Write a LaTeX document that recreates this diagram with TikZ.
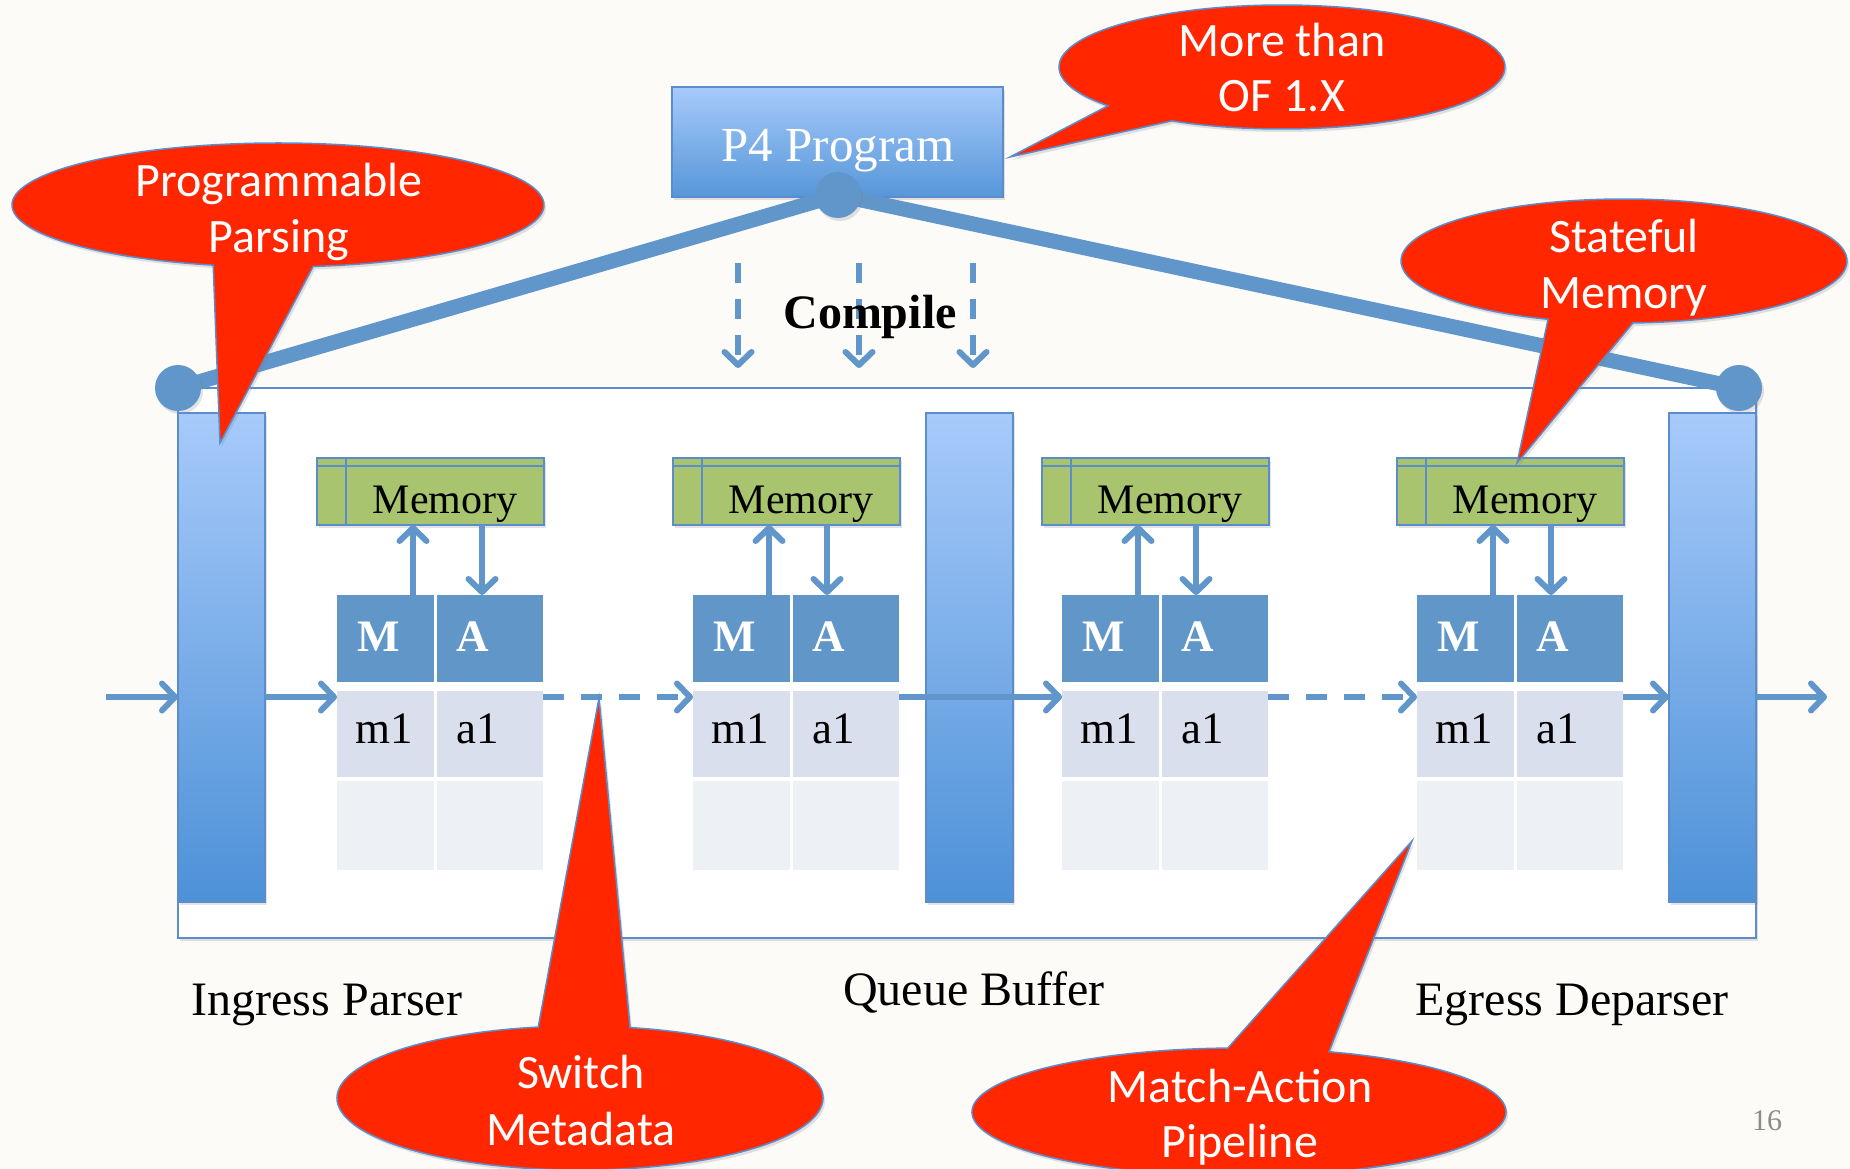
\documentclass[tikz,border=0pt]{standalone}
\usepackage{fontspec}
\setmainfont{Liberation Serif}
\newfontfamily\bubblefont{Carlito}
\usetikzlibrary{arrows.meta,shadows}

\definecolor{pagebg}{RGB}{252,251,248}
\definecolor{edgeblue}{RGB}{91,141,204}
\definecolor{linkblue}{RGB}{96,150,201}
\definecolor{barlight}{RGB}{167,202,250}
\definecolor{bardark}{RGB}{77,145,215}
\definecolor{headblue}{RGB}{97,150,201}
\definecolor{rowone}{RGB}{217,223,236}
\definecolor{rowtwo}{RGB}{237,240,245}
\definecolor{memgreen}{RGB}{169,196,110}
\definecolor{bubblered}{RGB}{255,38,0}
\definecolor{pagegray}{RGB}{140,140,140}

\tikzset{
  softshadow/.style={drop shadow={shadow xshift=2pt, shadow yshift=-3pt, opacity=0.22}},
  frame/.style={draw=edgeblue, line width=2pt, fill=white, softshadow, inner sep=0, outer sep=0},
  bar/.style={draw=edgeblue, line width=2pt, top color=barlight, bottom color=bardark,
    softshadow, inner sep=0, outer sep=0, minimum width=87pt, minimum height=489pt, anchor=north west},
  p4box/.style={draw=edgeblue, line width=2pt, top color=barlight, bottom color=bardark!95!white,
    softshadow, inner sep=0, outer sep=0},
  dot/.style={circle, fill=linkblue, minimum size=46pt, inner sep=0, softshadow},
  spine/.style={draw=linkblue, line width=15pt},
  memcell/.style={draw=edgeblue, line width=2pt, fill=memgreen, softshadow, inner sep=0, outer sep=0,
    minimum width=227pt, minimum height=67pt},
  memrule/.style={draw=edgeblue, line width=2pt},
  cell/.style={inner sep=0, outer sep=0, anchor=north west, draw=none},
  flow/.style={draw=linkblue, line width=6pt, -{Straight Barb[length=13pt,width=27pt,round]}},
  dashpat/.style={dash pattern=on 21pt off 17pt},
  compiledash/.style={dash pattern=on 20pt off 16pt},
  bubble/.style={fill=bubblered, draw=edgeblue, line width=1.5pt, softshadow},
  p4text/.style={text=white, font=\fontsize{49}{56}\selectfont, inner sep=0},
  compiletext/.style={font=\bfseries\fontsize{48}{56}\selectfont, inner sep=0},
  memtext/.style={font=\fontsize{42}{50}\selectfont, inner sep=0},
  headtext/.style={text=white, font=\bfseries\fontsize{45}{50}\selectfont, inner sep=0},
  celltext/.style={font=\fontsize{45}{50}\selectfont, inner sep=0},
  tagtext/.style={font=\fontsize{48}{56}\selectfont, inner sep=0},
  bubbletext/.style={text=white, font=\bubblefont\fontsize{48}{56}\selectfont, inner sep=0},
  pagenum/.style={text=pagegray, font=\fontsize{30}{36}\selectfont, inner sep=0},
}

% One match-action stage: memory block, two-column table, memory arrows.
% #1 name prefix, #2 left edge of the table, #3 offset of the downward arrow
\newcommand\stage[3]{%
  \node[memcell, anchor=north west] (#1mem) at ({#2-20},458) {};
  \draw[memrule] ([yshift=-8pt]#1mem.north west) -- ([yshift=-8pt]#1mem.north east);
  \draw[memrule] ([xshift=29pt]#1mem.north west) -- ([xshift=29pt]#1mem.south west);
  \node[memtext, anchor=base] (#1memt) at ({#2+108},513) {Memory};
  \node[cell, fill=headblue, minimum width=97pt, minimum height=87pt] (#1M) at (#2,595) {};
  \node[cell, fill=headblue, minimum width=106pt, minimum height=87pt] (#1A) at ({#2+100},595) {};
  \node[cell, fill=rowone, minimum width=97pt, minimum height=86pt] (#1m) at (#2,691) {};
  \node[cell, fill=rowone, minimum width=106pt, minimum height=86pt] (#1a) at ({#2+100},691) {};
  \node[cell, fill=rowtwo, minimum width=97pt, minimum height=89pt] (#1x) at (#2,781) {};
  \node[cell, fill=rowtwo, minimum width=106pt, minimum height=89pt] (#1y) at ({#2+100},781) {};
  \node[headtext, anchor=base west] (#1Mt) at ({#2+20},651) {M};
  \node[headtext, anchor=base west] (#1At) at ({#2+119},651) {A};
  \node[celltext, anchor=base west] (#1mt) at ({#2+18},743) {m1};
  \node[celltext, anchor=base west] (#1at) at ({#2+119},743) {a1};
  \coordinate (#1up) at ({#2+76},0);
  \coordinate (#1dn) at ({#2+#3},0);
  \draw[flow] (#1M.north -| #1up) -- (#1mem.south -| #1up);
  \draw[flow] (#1mem.south -| #1dn) -- (#1A.north -| #1dn);
}

\begin{document}
\begin{tikzpicture}[x=1pt, y=-1pt]
\path[use as bounding box, fill=pagebg] (0,0) rectangle (1850,1169);
\clip (0,0) rectangle (1850,1169);

% switch outline
\node[frame, minimum width=1578pt, minimum height=550pt, anchor=north west] (frame) at (178,388) {};

% P4 program and its links to the two ends of the switch
\node[p4box, minimum width=331pt, minimum height=110pt, anchor=north west] (p4) at (672,87) {};
\node[p4text, anchor=base] (p4t) at (838,162) {P4 Program};
\coordinate (p4dot) at (838,195);
\coordinate (ldot) at (178,388);
\coordinate (rdot) at (1739,388);
\draw[spine] (p4dot) -- (ldot);
\draw[spine] (p4dot) -- (rdot);
\node[dot] (p4knob) at (p4dot) {};
\node[dot] (lknob) at (ldot) {};
\node[dot] (rknob) at (rdot) {};

% compile arrows
\foreach \cx [count=\i] in {738,859,973}{
  \coordinate (ctop\i) at (\cx,263);
  \coordinate (cbot\i) at (\cx,368);
  \draw[flow, compiledash] (ctop\i) -- (cbot\i);
}
\node[compiletext, anchor=base] (compile) at (870,328) {Compile};

% parser, queue and deparser
\node[bar] (ing) at (178,413) {};
\node[bar] (queue) at (926,413) {};
\node[bar] (egr) at (1669,413) {};

% match-action stages
\stage{s1}{337}{145}
\stage{s2}{693}{134}
\stage{s3}{1062}{134}
\stage{s4}{1417}{134}

% packet flow
\coordinate (fy) at (0,697);
\coordinate (inlet) at (106,697);
\coordinate (outlet) at (1827,697);
\draw[flow] (inlet) -- (ing.west |- fy);
\draw[flow] (ing.east |- fy) -- (s1m.west |- fy);
\draw[flow, dashpat] (s1a.east |- fy) -- (s2m.west |- fy);
\draw[flow] (s2a.east |- fy) -- (s3m.west |- fy);
\draw[flow, dashpat] (s3a.east |- fy) -- (s4m.west |- fy);
\draw[flow] (s4a.east |- fy) -- (egr.west |- fy);
\draw[flow] (egr.east |- fy) -- (outlet);

% captions
\node[tagtext, anchor=base] (inglbl) at (327,1015) {Ingress Parser};
\node[tagtext, anchor=base] (queuelbl) at (974,1005) {Queue Buffer};
\node[tagtext, anchor=base] (egrlbl) at (1572,1015) {Egress Deparser};
\node[pagenum, anchor=base] (pnum) at (1767,1130) {16};

% callouts
\coordinate (ppc) at (278,205);
\coordinate (pptip) at (220,443);
\draw[bubble] (ppc) ++(82.4:266 and 62)
  arc[start angle=82.4, end angle=-255.9, x radius=266, y radius=62] -- (pptip) -- cycle;
\node[bubbletext, anchor=base] (pp1) at (279,197) {Programmable};
\node[bubbletext, anchor=base] (pp2) at (279,253) {Parsing};

\coordinate (ofc) at (1282,67);
\coordinate (oftip) at (1010,157);
\draw[bubble] (ofc) ++(141.3:223 and 62)
  arc[start angle=141.3, end angle=479.6, x radius=223, y radius=62] -- (oftip) -- cycle;
\node[bubbletext, anchor=base] (of1) at (1282,57) {More than};
\node[bubbletext, anchor=base] (of2) at (1282,112) {OF 1.X};

\coordinate (smc) at (1624,261);
\coordinate (smtip) at (1517,463);
\draw[bubble] (smc) ++(87.7:223 and 62)
  arc[start angle=87.7, end angle=-250.1, x radius=223, y radius=62] -- (smtip) -- cycle;
\node[bubbletext, anchor=base] (sm1) at (1624,253) {Stateful};
\node[bubbletext, anchor=base] (sm2) at (1624,308) {Memory};

\coordinate (swc) at (580,1098);
\coordinate (swtip) at (599,698);
\draw[bubble] (swc) ++(-78.1:243 and 72)
  arc[start angle=-78.1, end angle=260.1, x radius=243, y radius=72] -- (swtip) -- cycle;
\node[bubbletext, anchor=base] (sw1) at (581,1088) {Switch};
\node[bubbletext, anchor=base] (sw2) at (581,1145) {Metadata};

\coordinate (mac) at (1239,1112);
\coordinate (matip) at (1412,841);
\draw[bubble] (mac) ++(-70.3:267 and 64)
  arc[start angle=-70.3, end angle=267.6, x radius=267, y radius=64] -- (matip) -- cycle;
\node[bubbletext, anchor=base] (ma1) at (1240,1102) {Match-Action};
\node[bubbletext, anchor=base] (ma2) at (1240,1157) {Pipeline};
\end{tikzpicture}
\end{document}
